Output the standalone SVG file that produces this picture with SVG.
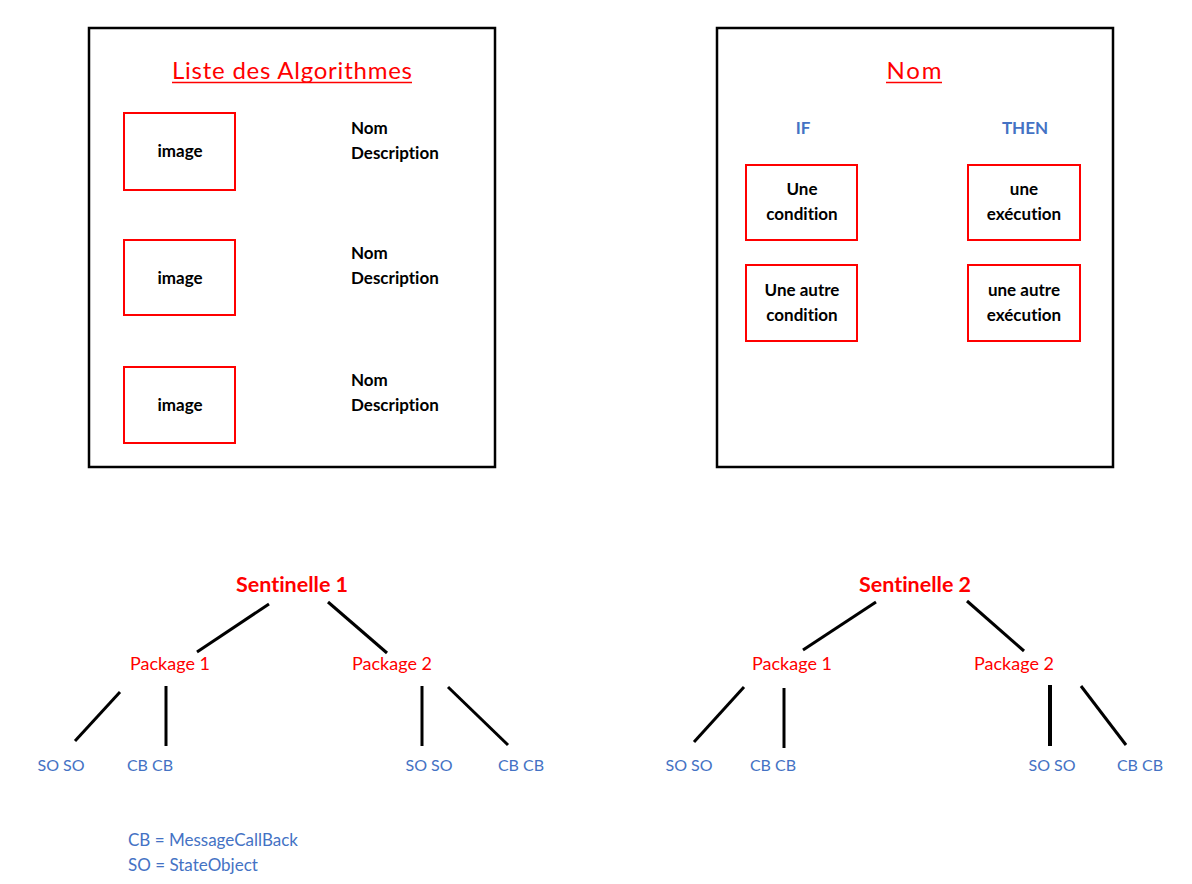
<svg xmlns="http://www.w3.org/2000/svg" width="1192" height="884" viewBox="0 0 1192 884">
<style>
text{font-family:Lato,"Open Sans","Liberation Sans",sans-serif;font-variant-ligatures:none;font-feature-settings:"liga" 0}
.frame{fill:none;stroke:#000;stroke-width:2.5}
.box{fill:none;stroke:#f00;stroke-width:2}
.title{fill:#f00;font-size:24px;text-anchor:middle}
.ul{stroke:#f00;stroke-width:1.5}
.bk{fill:#000;font-size:17px;font-weight:bold}
.bc{fill:#000;font-size:17px;font-weight:bold;text-anchor:middle}
.hd{fill:#4472c4;font-size:17px;font-weight:bold;text-anchor:middle}
.sent{fill:#f00;font-size:21.5px;font-weight:bold;text-anchor:middle}
.pkg{fill:#f00;font-size:18px;text-anchor:middle}
.leaf{fill:#4472c4;font-size:16px;text-anchor:middle}
.leg{fill:#4472c4;font-size:17px}
.edge{stroke:#000;stroke-width:3;fill:none}
</style>
<rect width="1192" height="884" fill="#fff"/>

<g id="liste">
<rect class="frame" x="89" y="28" width="406" height="439"/>
<text class="title" x="292" y="79" textLength="240">Liste des Algorithmes</text>
<line class="ul" x1="172" y1="82.5" x2="412" y2="82.5"/>
</g>
<g id="algo1">
<rect class="box" x="124" y="113" width="111" height="77"/>
<text class="bc" x="180" y="157">image</text>
<text class="bk" x="351" y="134">Nom</text>
<text class="bk" x="351" y="159">Description</text>
</g>
<g id="algo2">
<rect class="box" x="124" y="240" width="111" height="75"/>
<text class="bc" x="180" y="284">image</text>
<text class="bk" x="351" y="259">Nom</text>
<text class="bk" x="351" y="284">Description</text>
</g>
<g id="algo3">
<rect class="box" x="124" y="367" width="111" height="76"/>
<text class="bc" x="180" y="411">image</text>
<text class="bk" x="351" y="386">Nom</text>
<text class="bk" x="351" y="411">Description</text>
</g>

<g id="regle">
<rect class="frame" x="717" y="28" width="396" height="439"/>
<text class="title" x="914" y="79" textLength="55">Nom</text>
<line class="ul" x1="886" y1="82.5" x2="942" y2="82.5"/>
<text class="hd" x="803" y="134">IF</text>
<text class="hd" x="1025" y="134">THEN</text>
</g>
<g id="cond1">
<rect class="box" x="746" y="165" width="111" height="75"/>
<text class="bc" x="802" y="195">Une</text>
<text class="bc" x="802" y="220">condition</text>
</g>
<g id="cond2">
<rect class="box" x="746" y="265" width="111" height="76"/>
<text class="bc" x="802" y="296">Une autre</text>
<text class="bc" x="802" y="321">condition</text>
</g>
<g id="exec1">
<rect class="box" x="968" y="165" width="112" height="75"/>
<text class="bc" x="1024" y="195">une</text>
<text class="bc" x="1024" y="220">exécution</text>
</g>
<g id="exec2">
<rect class="box" x="968" y="265" width="112" height="76"/>
<text class="bc" x="1024" y="296">une autre</text>
<text class="bc" x="1024" y="321">exécution</text>
</g>

<g id="connectors">
<line class="edge" x1="269" y1="604" x2="197" y2="652"/>
<line class="edge" x1="328" y1="602" x2="387" y2="653"/>
<line class="edge" x1="120" y1="692" x2="75" y2="741"/>
<line class="edge" x1="166" y1="686" x2="166" y2="746"/>
<line class="edge" x1="422" y1="686" x2="422" y2="746"/>
<line class="edge" x1="448" y1="687" x2="508" y2="745"/>
<line class="edge" x1="876" y1="602" x2="803" y2="650"/>
<line class="edge" x1="967" y1="601" x2="1024" y2="651"/>
<line class="edge" x1="744" y1="687" x2="694" y2="742"/>
<line class="edge" x1="784" y1="688" x2="784" y2="748"/>
<line class="edge" x1="1050" y1="685" x2="1050" y2="746" style="stroke-width:4"/>
<line class="edge" x1="1081" y1="686" x2="1126" y2="745"/>
</g>

<g id="sentinelle1"><text class="sent" x="292" y="592">Sentinelle 1</text></g>
<g id="s1p1"><text class="pkg" x="170" y="670">Package 1</text></g>
<g id="s1p2"><text class="pkg" x="392" y="670">Package 2</text></g>
<g id="s1p1so"><text class="leaf" x="61" y="771">SO SO</text></g>
<g id="s1p1cb"><text class="leaf" x="150" y="771">CB CB</text></g>
<g id="s1p2so"><text class="leaf" x="429" y="771">SO SO</text></g>
<g id="s1p2cb"><text class="leaf" x="521" y="771">CB CB</text></g>

<g id="sentinelle2"><text class="sent" x="915" y="592">Sentinelle 2</text></g>
<g id="s2p1"><text class="pkg" x="792" y="670">Package 1</text></g>
<g id="s2p2"><text class="pkg" x="1014" y="670">Package 2</text></g>
<g id="s2p1so"><text class="leaf" x="689" y="771">SO SO</text></g>
<g id="s2p1cb"><text class="leaf" x="773" y="771">CB CB</text></g>
<g id="s2p2so"><text class="leaf" x="1052" y="771">SO SO</text></g>
<g id="s2p2cb"><text class="leaf" x="1140" y="771">CB CB</text></g>

<g id="legende">
<text class="leg" x="128" y="846">CB = MessageCallBack</text>
<text class="leg" x="128" y="871">SO = StateObject</text>
</g>
</svg>
